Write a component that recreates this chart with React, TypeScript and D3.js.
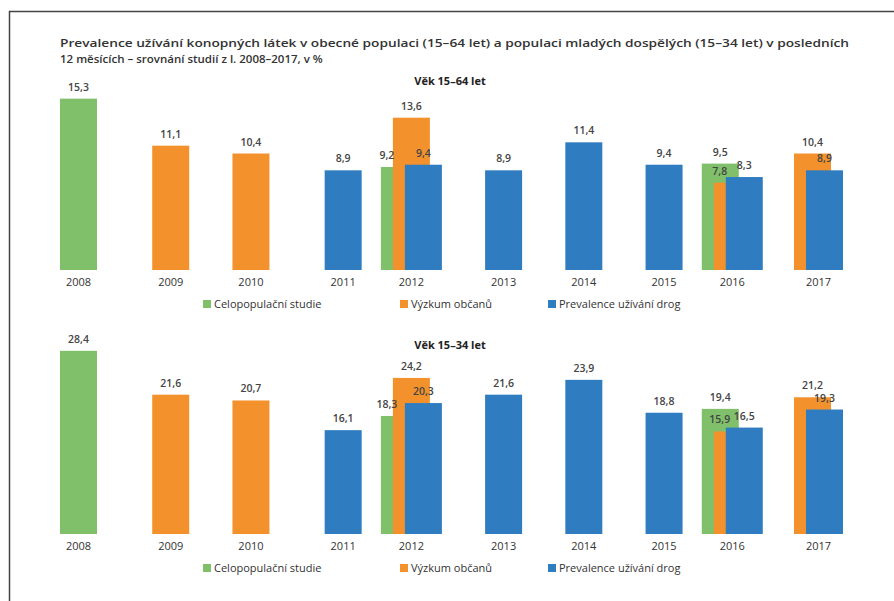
import React from 'react';
import * as d3 from 'd3';

const years = [2008, 2009, 2010, 2011, 2012, 2013, 2014, 2015, 2016, 2017];

// Věk 15–64 let
const celo1564 = [15.3, null, null, null, 9.2, null, null, null, 9.5, null];
const vyzkum1564 = [null, 11.1, 10.4, null, 13.6, null, null, null, 7.8, 10.4];
const prevalence1564 = [null, null, null, 8.9, 9.4, 8.9, 11.4, 9.4, 8.3, 8.9];

// Věk 15–34 let
const celo1534 = [28.4, null, null, null, 18.3, null, null, null, 19.4, null];
const vyzkum1534 = [null, 21.6, 20.7, null, 24.2, null, null, null, 15.9, 21.2];
const prevalence1534 = [null, null, null, 16.1, 20.3, 21.6, 23.9, 18.8, 16.5, 19.3];

const seriesKeys = ['celo', 'vyzkum', 'prevalence'];
const seriesNames = ['Celopopulační studie', 'Výzkum občanů', 'Prevalence užívání drog'];
const seriesColors = ['#80c06b', '#f3922c', '#2f7dc0'];

const titleLines = [
  'Prevalence užívání konopných látek v obecné populaci (15–64 let) a populaci mladých dospělých (15–34 let) v posledních',
  '12 měsících – srovnání studií z l. 2008–2017, v %',
];

const FONT = '"Open Sans", "Liberation Sans", sans-serif';
const BAR_W = 37;
const LEGEND_X = [203, 400, 548];

const fmt = d3.formatLocale({ decimal: ',', thousands: ' ', grouping: [3], currency: ['', ''] }).format('.1f');

const x = d3.scaleLinear().domain([2008, 2017]).range([60, 782]);
const offset = d3.scalePoint<string>().domain(seriesKeys).range([0, 24]);

interface PanelProps {
  label: string;
  baseY: number;
  maxVal: number;
  pxPerUnit: number;
  data: (number | null)[][];
}

function Panel({ label, baseY, maxVal, pxPerUnit, data }: PanelProps) {
  const y = d3.scaleLinear().domain([0, maxVal]).range([baseY, baseY - maxVal * pxPerUnit]);

  return (
    <g>
      <text x={450} y={baseY - 185} textAnchor="middle" fontFamily={FONT} fontSize={11} fontWeight={700} fill="#222">
        {label}
      </text>
      {years.map((yr, i) => {
        const bars = seriesKeys
          .map((k, s) => ({ k, s, v: data[s][i] }))
          .filter((b) => b.v != null) as { k: string; s: number; v: number }[];
        const x0 = x(yr);
        const left = d3.min(bars, (b) => x0 + (offset(b.k) ?? 0))!;
        const right = d3.max(bars, (b) => x0 + (offset(b.k) ?? 0) + BAR_W)!;
        return (
          <g key={yr}>
            {bars.map((b) => {
              const bx = x0 + (offset(b.k) ?? 0);
              return (
                <rect key={b.k} x={bx} y={y(b.v)} width={BAR_W} height={baseY - y(b.v)} fill={seriesColors[b.s]} />
              );
            })}
            {bars.map((b, j) => {
              const bx = x0 + (offset(b.k) ?? 0);
              const next = bars[j + 1];
              let lx = bx + BAR_W / 2;
              // label sits over the visible strip when a taller bar covers this one
              if (next && next.v > b.v) {
                const nx = x0 + (offset(next.k) ?? 0);
                lx = (bx + nx) / 2;
              }
              return (
                <text
                  key={b.k + 'l'}
                  x={lx}
                  y={y(b.v) - 8}
                  textAnchor="middle"
                  fontFamily={FONT}
                  fontSize={10.5}
                  fontWeight={600}
                  fill="#444"
                >
                  {fmt(b.v)}
                </text>
              );
            })}
            <text x={(left + right) / 2} y={baseY + 16} textAnchor="middle" fontFamily={FONT} fontSize={11} fill="#333">
              {yr}
            </text>
          </g>
        );
      })}
      {seriesNames.map((name, s) => (
        <g key={name} transform={`translate(${LEGEND_X[s]},${baseY + 38})`}>
          <rect x={0} y={-8} width={8} height={8} fill={seriesColors[s]} />
          <text x={11} y={0} fontFamily={FONT} fontSize={11} fill="#333">
            {name}
          </text>
        </g>
      ))}
    </g>
  );
}

export default function App() {
  const width = 894;
  const height = 601;
  return (
    <svg width={width} height={height} style={{ position: 'fixed', left: 0, top: 0, background: '#fff' }}>
      <rect x={0} y={0} width={width} height={height} fill="#fff" />
      <path d={`M9.5,${height} V11.5 H${width}`} fill="none" stroke="#444" strokeWidth={1.5} />
      <text x={60} y={47} fontFamily={FONT} fontSize={11.5} fontWeight={600} fill="#333" textLength={789} lengthAdjust="spacingAndGlyphs">
        {titleLines[0]}
      </text>
      <text x={60} y={62.8} fontFamily={FONT} fontSize={11.5} fontWeight={600} fill="#333">
        {titleLines[1]}
      </text>
      <Panel label="Věk 15–64 let" baseY={270} maxVal={16} pxPerUnit={11.2} data={[celo1564, vyzkum1564, prevalence1564]} />
      <Panel label="Věk 15–34 let" baseY={534} maxVal={30} pxPerUnit={6.45} data={[celo1534, vyzkum1534, prevalence1534]} />
    </svg>
  );
}
